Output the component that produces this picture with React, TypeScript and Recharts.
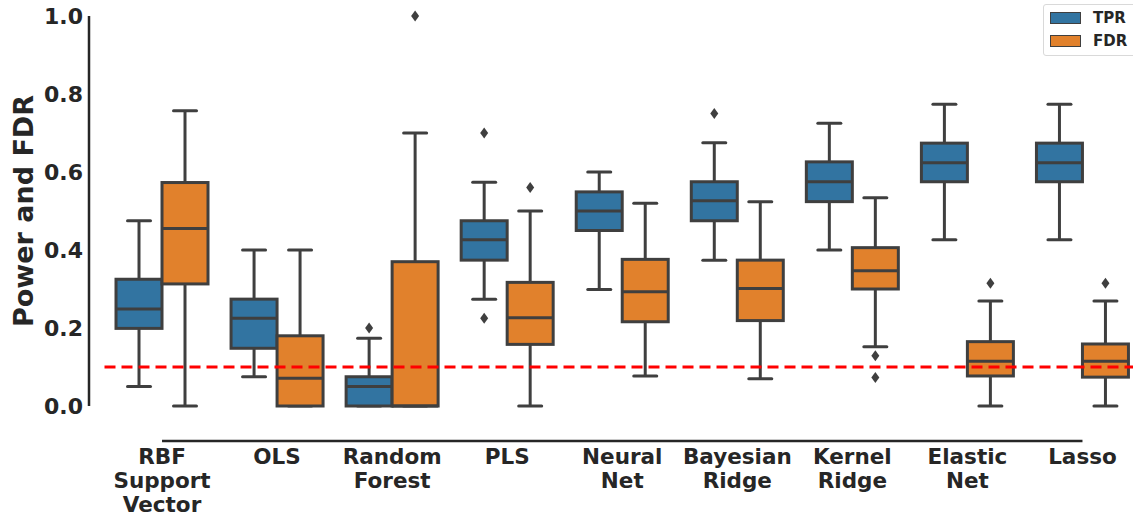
import React from 'react';
import { ComposedChart, Bar, XAxis, YAxis, ReferenceLine, Legend } from 'recharts';

const methods = [
  'RBF\nSupport\nVector', 'OLS', 'Random\nForest', 'PLS', 'Neural\nNet',
  'Bayesian\nRidge', 'Kernel\nRidge', 'Elastic\nNet', 'Lasso',
];

// TPR (power) box stats per method
const tprLow = [0.05, 0.075, 0, 0.274, 0.299, 0.374, 0.40, 0.426, 0.426];
const tprQ1 = [0.199, 0.148, 0, 0.374, 0.45, 0.475, 0.524, 0.575, 0.575];
const tprMedian = [0.249, 0.225, 0.05, 0.426, 0.50, 0.526, 0.575, 0.624, 0.624];
const tprQ3 = [0.325, 0.274, 0.075, 0.475, 0.549, 0.575, 0.626, 0.674, 0.674];
const tprHigh = [0.475, 0.40, 0.174, 0.574, 0.60, 0.675, 0.725, 0.774, 0.774];
const tprOutliers: number[][] = [[], [], [0.2], [0.70, 0.225], [], [0.75], [], [], []];

// FDR box stats per method
const fdrLow = [0, 0, 0, 0, 0.077, 0.07, 0.152, 0, 0];
const fdrQ1 = [0.313, 0, 0, 0.158, 0.216, 0.219, 0.30, 0.077, 0.074];
const fdrMedian = [0.455, 0.071, 0, 0.226, 0.293, 0.301, 0.347, 0.115, 0.115];
const fdrQ3 = [0.573, 0.18, 0.37, 0.317, 0.376, 0.374, 0.406, 0.165, 0.159];
const fdrHigh = [0.757, 0.40, 0.70, 0.50, 0.52, 0.524, 0.534, 0.269, 0.269];
const fdrOutliers: number[][] = [[], [], [1.0], [0.56], [], [], [0.129, 0.073], [0.315], [0.315]];

const yTicks = [0, 0.2, 0.4, 0.6, 0.8, 1.0];
const fdrTarget = 0.1;
const legendOrder = ['TPR', 'FDR'];

const BLUE = '#3274a1';
const ORANGE = '#e1812c';
const EDGE = '#3f3f3f';
const INK = '#262626';
const FONT = '"DejaVu Sans", sans-serif';

const data = methods.map((name, i) => ({
  name,
  tpr: [tprLow[i], tprHigh[i]],
  fdr: [fdrLow[i], fdrHigh[i]],
  tprBox: { low: tprLow[i], q1: tprQ1[i], median: tprMedian[i], q3: tprQ3[i], high: tprHigh[i], out: tprOutliers[i] },
  fdrBox: { low: fdrLow[i], q1: fdrQ1[i], median: fdrMedian[i], q3: fdrQ3[i], high: fdrHigh[i], out: fdrOutliers[i] },
}));

const makeBox = (key: 'tpr' | 'fdr', fill: string) => (props: any) => {
  const { x, y, width, height, payload } = props;
  const s = payload[key + 'Box'];
  const top = Math.min(y, y + height);
  const bottom = Math.max(y, y + height);
  const toY = (v: number) => bottom - ((v - s.low) / (s.high - s.low)) * (bottom - top);
  const cx = x + width / 2;
  const cap = width / 4;
  const yQ1 = toY(s.q1);
  const yQ3 = toY(s.q3);
  return (
    <g>
      <line x1={cx} x2={cx} y1={toY(s.high)} y2={yQ3} stroke={EDGE} strokeWidth={3} />
      <line x1={cx} x2={cx} y1={yQ1} y2={toY(s.low)} stroke={EDGE} strokeWidth={3} />
      <line x1={cx - cap} x2={cx + cap} y1={toY(s.high)} y2={toY(s.high)} stroke={EDGE} strokeWidth={3} strokeLinecap="round" />
      <line x1={cx - cap} x2={cx + cap} y1={toY(s.low)} y2={toY(s.low)} stroke={EDGE} strokeWidth={3} strokeLinecap="round" />
      <rect x={x} y={yQ3} width={width} height={yQ1 - yQ3} fill={fill} stroke={EDGE} strokeWidth={3} />
      <line x1={x} x2={x + width} y1={toY(s.median)} y2={toY(s.median)} stroke={EDGE} strokeWidth={3} />
      {s.out.map((v: number, j: number) => {
        const oy = toY(v);
        return <path key={j} d={`M${cx},${oy - 5.5}L${cx + 4},${oy}L${cx},${oy + 5.5}L${cx - 4},${oy}Z`} fill={EDGE} />;
      })}
    </g>
  );
};

const MethodTick = (props: any) => {
  const { x, y, payload } = props;
  const lines = String(payload.value).split('\n');
  return (
    <text x={x} y={y} textAnchor="middle" fill={INK} fontSize={21.5} fontWeight="bold" fontFamily={FONT}>
      {lines.map((l, i) => (
        <tspan key={i} x={x} dy={i === 0 ? 58 : 24}>{l}</tspan>
      ))}
    </text>
  );
};

const YLabel = (p: any) => {
  const vb = p.viewBox;
  const cx = vb.x + 33;
  const cy = vb.y + vb.height / 2;
  return (
    <text x={cx} y={cy} transform={`rotate(-90 ${cx} ${cy})`} textAnchor="middle" fill={INK}
      fontSize={27} fontWeight="bold" fontFamily={FONT}>
      Power and FDR
    </text>
  );
};

const BoxLegend = (props: any) => {
  const items = [...(props.payload || [])].sort(
    (a: any, b: any) => legendOrder.indexOf(a.value) - legendOrder.indexOf(b.value));
  return (
    <div style={{ border: '1px solid #d9d9d9', borderRadius: 3, background: '#fff', padding: '1px 8px 3px 6px', fontFamily: FONT }}>
      {items.map((entry: any) => (
        <div key={entry.value} style={{ display: 'flex', alignItems: 'center', height: 23 }}>
          <span style={{ width: 29, height: 10, background: entry.color, border: `1.5px solid ${EDGE}` }} />
          <span style={{ marginLeft: 12, fontSize: 15, fontWeight: 'bold', color: INK }}>{entry.value}</span>
        </div>
      ))}
    </div>
  );
};

export default function App() {
  return (
    <div style={{ position: 'absolute', left: 0, top: 0, width: 1133, height: 518, overflow: 'hidden', background: '#fff' }}>
      <ComposedChart width={1140} height={518} data={data} margin={{ top: 16, right: 0, bottom: 0, left: 0 }}
        barCategoryGap="10%" barGap={0}>
        <XAxis dataKey="name" interval={0} axisLine={false} tickLine={false} tickSize={0} tickMargin={0}
          height={112} tick={MethodTick} />
        <YAxis yAxisId="gap" width={15.5} domain={[0, 1]} tick={false} axisLine={false} tickLine={false} />
        <YAxis yAxisId="main" width={89} type="number" domain={[0, 1]} ticks={yTicks}
          tickFormatter={(v: number) => v.toFixed(1)} tickLine={false} tickSize={0} tickMargin={6}
          axisLine={{ stroke: INK, strokeWidth: 2.5 }}
          tick={{ fontSize: 22, fontWeight: 'bold', fill: INK, fontFamily: FONT }}
          label={{ value: 'Power and FDR', content: YLabel }} />
        <Legend layout="horizontal" verticalAlign="middle" align="center" content={BoxLegend}
          wrapperStyle={{ top: 4, left: 1043, width: 'auto', height: 'auto' }} />
        <Bar yAxisId="main" dataKey="tpr" name="TPR" fill={BLUE} shape={makeBox('tpr', BLUE)} isAnimationActive={false} />
        <Bar yAxisId="main" dataKey="fdr" name="FDR" fill={ORANGE} shape={makeBox('fdr', ORANGE)} isAnimationActive={false} />
        <ReferenceLine yAxisId="main" y={fdrTarget} stroke="#ff0000" strokeWidth={3} strokeDasharray="11 6" />
        <ReferenceLine yAxisId="main" ifOverflow="visible" stroke={INK} strokeWidth={2.5}
          segment={[{ x: methods[0], y: -0.09 }, { x: methods[methods.length - 1], y: -0.09 }]} />
      </ComposedChart>
    </div>
  );
}
